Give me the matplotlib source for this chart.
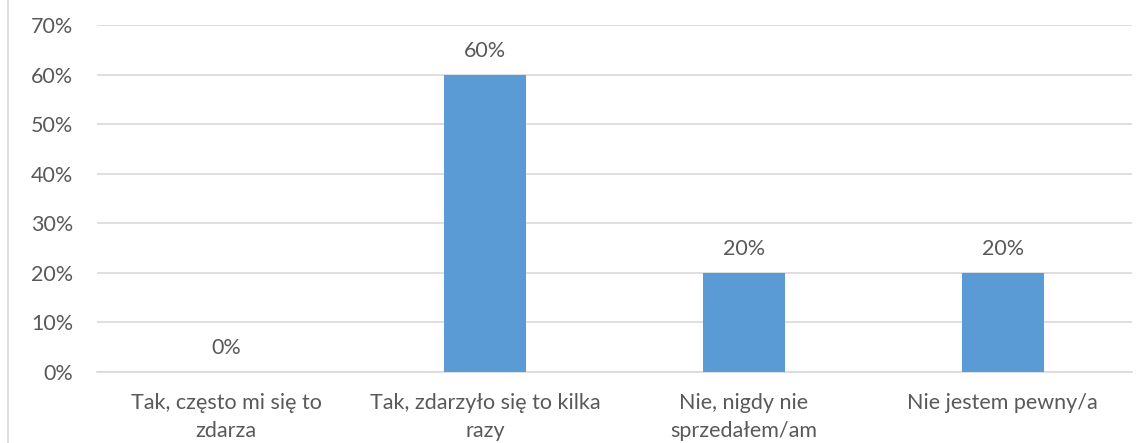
import matplotlib
matplotlib.use("Agg")
import matplotlib.pyplot as plt
from matplotlib.lines import Line2D
from matplotlib.ticker import MultipleLocator, FuncFormatter

categories = ["Tak, często mi się to\nzdarza", "Tak, zdarzyło się to kilka\nrazy",
              "Nie, nigdy nie\nsprzedałem/am", "Nie jestem pewny/a"]
values = [0, 60, 20, 20]
value_labels = ["0%", "60%", "20%", "20%"]

plt.rcParams['font.family'] = ['Lato', 'DejaVu Sans']
text_color = "#595959"
grid_color = "#D9D9D9"
bar_color = "#5B9BD5"
fs = 15.5

fig = plt.figure(figsize=(11.45, 4.43), dpi=100)
ax = fig.add_axes([97/1145, 71/443, (1132-97)/1145, (372-25)/443])

x = list(range(len(categories)))
bars = ax.bar(x, values, width=0.317, color=bar_color, zorder=3)
ax.set_xlim(-0.5, len(categories) - 0.5)
ax.set_ylim(0, 70)
ax.yaxis.set_major_locator(MultipleLocator(10))
ax.yaxis.set_major_formatter(FuncFormatter(lambda v, p: f"{int(round(v))}%"))
ax.grid(axis='y', color=grid_color, linewidth=1.2, zorder=0)
for s in ["top", "right", "left"]:
    ax.spines[s].set_visible(False)
ax.spines["bottom"].set_color(grid_color)
ax.spines["bottom"].set_linewidth(1.2)
ax.set_xticks(x)
ax.set_xticklabels(categories, linespacing=1.5)
ax.tick_params(axis='x', length=0, pad=15, labelsize=fs, labelcolor=text_color)
ax.tick_params(axis='y', length=0, pad=17, labelsize=fs, labelcolor=text_color)

for xi, v, lab in zip(x, values, value_labels):
    ax.annotate(lab, (xi, v), xytext=(0, 17), textcoords="offset points",
                ha="center", va="center", fontsize=fs, color=text_color)

fig.add_artist(Line2D([8/1145, 8/1145], [0, 1], color=grid_color, linewidth=1.2,
                      transform=fig.transFigure))

fig.savefig("out.png", dpi=100)
